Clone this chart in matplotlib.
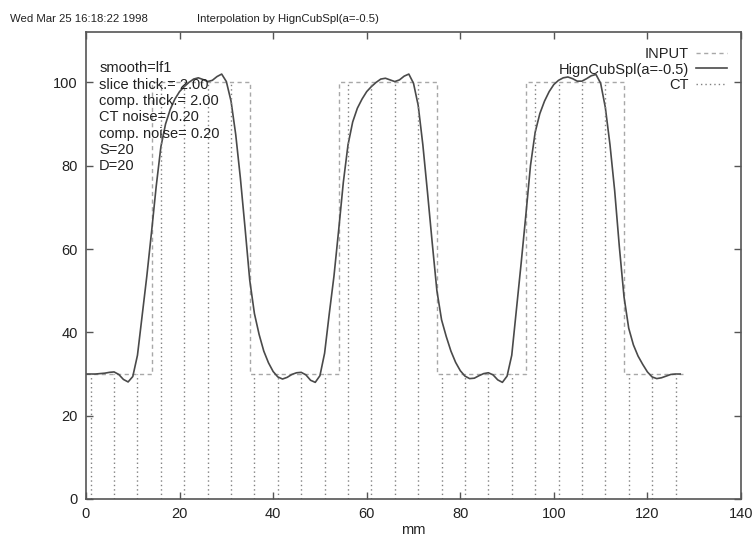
"""Interpolation of a CT profile by a cubic spline, gnuplot look."""

import matplotlib

matplotlib.use("Agg")
import matplotlib.pyplot as plt
from matplotlib import font_manager

# INPUT profile: step edges (mm) and level between each pair of edges
input_edges = [0, 14, 35, 54, 75, 94, 115, 127.5]
input_levels = [30, 100, 30, 100, 30, 100, 30]

# CT samples drawn as impulses
ct_mm = [1, 6, 11, 16, 21, 26, 31, 36, 41, 46, 51, 56, 61, 66, 71, 76,
         81, 86, 91, 96, 101, 106, 111, 116, 121, 126]
ct_values = [30, 30, 30, 100, 100, 100, 100, 30, 30, 30, 30, 100, 100, 100, 100, 30,
             30, 30, 30, 100, 100, 100, 100, 30, 30, 30]

curve_mm = list(range(0, 128))
curve_values = [
    30.0, 30.0, 30.0, 30.1, 30.2, 30.4, 30.5, 29.9, 28.7, 28.1,
    29.4, 34.5, 44.0, 53.5, 64.0, 75.0, 84.5, 90.0, 93.5, 96.0,
    97.8, 99.0, 100.0, 100.8, 101.1, 100.7, 100.2, 100.5, 101.4, 102.0,
    100.2, 95.5, 87.5, 77.0, 65.0, 52.5, 44.5, 39.5, 35.5, 32.7,
    30.6, 29.3, 28.8, 29.2, 29.9, 30.3, 30.4, 29.8, 28.5, 28.0,
    29.6, 35.0, 44.5, 53.5, 64.5, 76.0, 85.0, 90.5, 93.8, 96.0,
    97.8, 99.0, 100.0, 100.8, 101.0, 100.6, 100.2, 100.6, 101.5, 102.0,
    99.8, 94.5, 85.0, 73.5, 61.5, 50.0, 43.0, 39.0, 35.5, 32.8,
    30.8, 29.5, 28.9, 29.0, 29.6, 30.1, 30.3, 29.8, 28.6, 28.0,
    29.5, 34.5, 45.5, 56.5, 68.0, 80.0, 88.0, 92.5, 95.5, 97.8,
    99.5, 100.5, 101.1, 101.3, 100.9, 100.3, 100.3, 100.9, 101.6, 101.9,
    99.8, 94.0, 85.0, 74.0, 60.5, 48.5, 41.0, 37.0, 34.3, 32.3,
    30.5, 29.3, 28.9, 29.1, 29.5, 29.9, 30.0, 30.0,
]

x_ticks = [0, 20, 40, 60, 80, 100, 120, 140]
y_ticks = [0, 20, 40, 60, 80, 100]

notes = [
    "smooth=lf1",
    "slice thick.= 2.00",
    "comp. thick.= 2.00",
    "CT noise= 0.20",
    "comp. noise= 0.20",
    "S=20",
    "D=20",
]

TEXT_COLOUR = "#222222"
AXIS_COLOUR = "#555555"
FONT = ["Liberation Sans", "DejaVu Sans"]

# the header line is set in a narrow face when one is installed
installed = {entry.name for entry in font_manager.fontManager.ttflist}
if "Liberation Sans Narrow" in installed:
    header_font, header_size = ["Liberation Sans Narrow"], 10.0
else:
    header_font, header_size = FONT, 8.2

plt.rcParams["font.family"] = FONT
plt.rcParams["font.size"] = 10.5

fig = plt.figure(figsize=(7.52, 5.41), dpi=100, facecolor="white")
ax = fig.add_axes([86 / 752, 1 - 499 / 541, (741 - 86) / 752, (499 - 32) / 541])

input_y = input_levels + [input_levels[-1]]
ax.plot(input_edges, input_y, drawstyle="steps-post", color="#a8a8a8",
        linewidth=1.0, linestyle=(0, (3, 2.5)), label="INPUT")
ax.plot(curve_mm, curve_values, color="#4a4a4a", linewidth=1.2,
        label="HignCubSpl(a=-0.5)")
ax.vlines(ct_mm, 0, ct_values, color="#808080", linewidth=1.0,
          linestyles=(0, (1, 2.2)), label="CT")

ax.set_xlim(0, 140)
ax.set_ylim(0, 112.1)
ax.set_xticks(x_ticks)
ax.set_yticks(y_ticks)
ax.tick_params(direction="in", length=5, width=1.0, color=AXIS_COLOUR,
               labelcolor=TEXT_COLOUR, labelsize=10.5, pad=6,
               top=True, right=True)
for spine in ax.spines.values():
    spine.set_color(AXIS_COLOUR)
    spine.set_linewidth(1.2)

ax.set_xlabel("mm", color=TEXT_COLOUR, fontsize=10.5, labelpad=1)

ax.text(0.02, 0.937, "\n".join(notes), transform=ax.transAxes, ha="left",
        va="top", color=TEXT_COLOUR, fontsize=10.5, linespacing=1.21)

ax.legend(loc="upper right", bbox_to_anchor=(0.978, 0.967), frameon=False,
          markerfirst=False, borderaxespad=0, borderpad=0, handlelength=2.1,
          handletextpad=0.5, labelspacing=0.08, fontsize=10.5,
          labelcolor=TEXT_COLOUR)

fig.text(10 / 752, 1 - 19 / 541, "Wed Mar 25 16:18:22 1998", ha="left",
         va="center", color=TEXT_COLOUR, fontsize=header_size,
         family=header_font)
fig.text(288 / 752, 1 - 19 / 541, "Interpolation by HignCubSpl(a=-0.5)",
         ha="center", va="center", color=TEXT_COLOUR, fontsize=header_size,
         family=header_font)

fig.savefig("out.png", dpi=100, facecolor="white")
